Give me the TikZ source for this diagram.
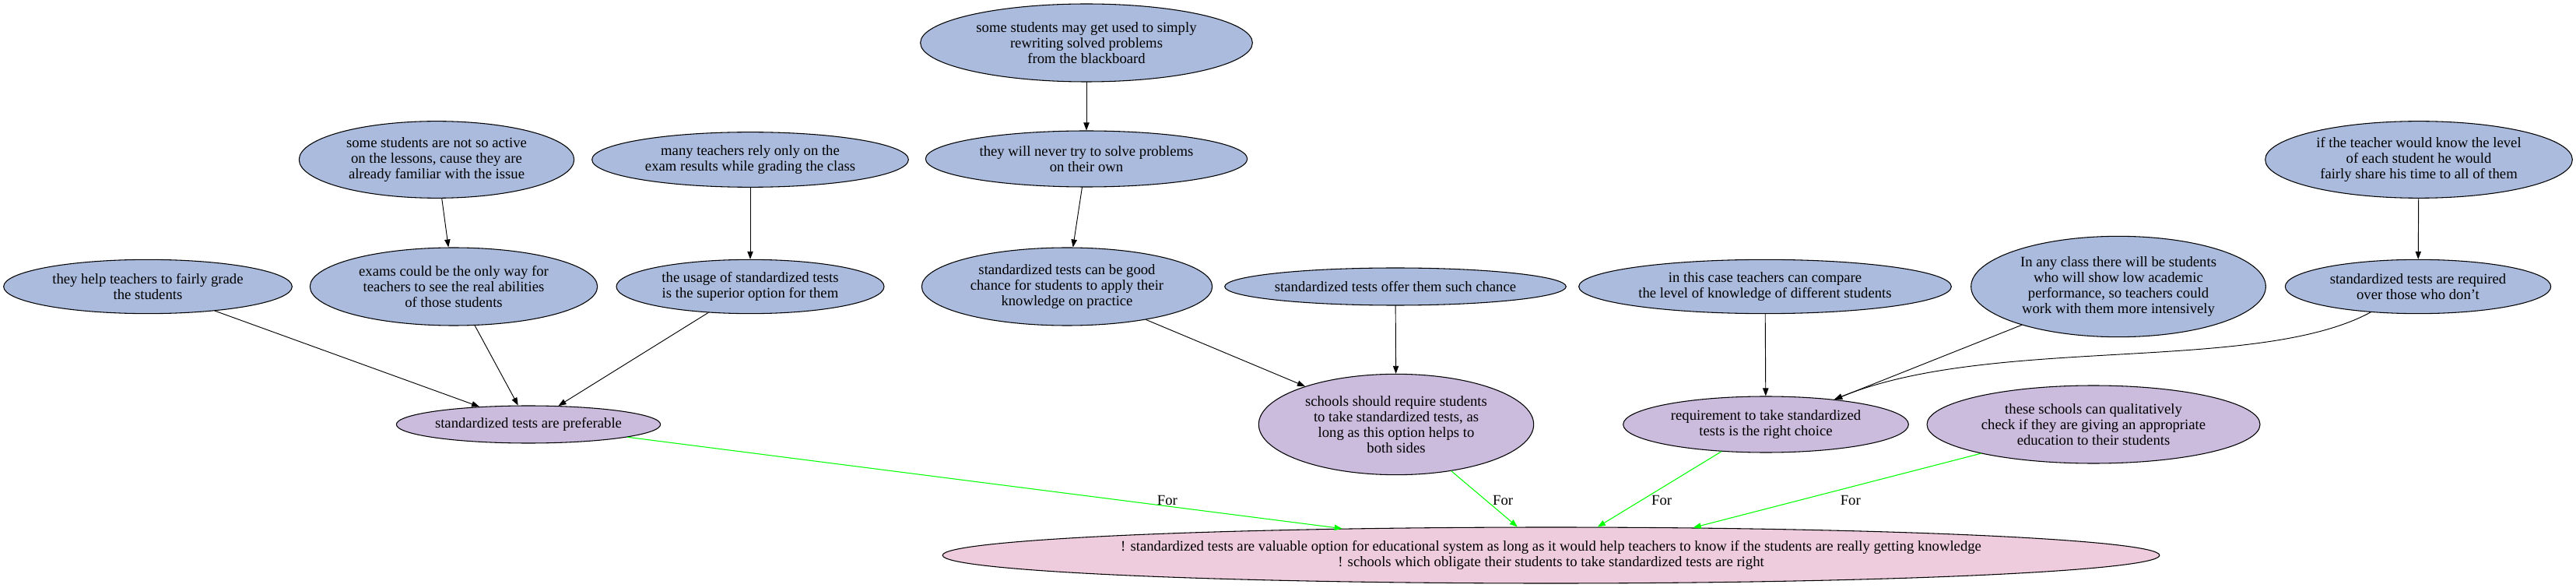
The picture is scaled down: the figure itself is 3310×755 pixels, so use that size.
\documentclass[tikz,border=0pt]{standalone}
\usepackage{fontspec}
\setmainfont{Liberation Serif}
\usepackage{tikz}
\usetikzlibrary{arrows.meta}
\usetikzlibrary{shapes.geometric}

\definecolor{claimblue}{RGB}{170,187,221}
\definecolor{pointlilac}{RGB}{203,187,221}
\definecolor{thesispink}{RGB}{238,204,221}

\tikzset{
	arg/.style={ellipse,draw=black,line width=0.8pt,inner sep=0pt,align=center,font=\fontsize{14}{15}\selectfont},
	claim/.style={arg,fill=claimblue},
	point/.style={arg,fill=pointlilac},
	thesis/.style={arg,fill=thesispink},
	link/.style={->,line width=0.7pt},
	forlink/.style={->,line width=0.8pt,draw=green},
	forlabel/.style={font=\fontsize{14}{15}\selectfont,inner sep=0pt}
}

\begin{document}
\begin{tikzpicture}[line cap=round,line join=round,>={Triangle[length=7.5pt,width=5.5pt]},x=0.75pt,y=-0.75pt]
	\useasboundingbox (0,0) rectangle (3310,755);
	\node[claim,minimum width=320pt,minimum height=75pt] (blackboard) at (1396,55) {some students may get used to simply\\rewriting solved problems\\from the blackboard};
	\node[claim,minimum width=265pt,minimum height=74pt] (active) at (561,205) {some students are not so active\\on the lessons, cause they are\\already familiar with the issue};
	\node[claim,minimum width=305pt,minimum height=53pt] (rely) at (964,205) {many teachers rely only on the\\exam results while grading the class};
	\node[claim,minimum width=310pt,minimum height=54pt] (never) at (1396,204) {they will never try to solve problems\\on their own};
	\node[claim,minimum width=296pt,minimum height=74pt] (share) at (3108,205) {if the teacher would know the level\\of each student he would\\fairly share his time to all of them};
	\node[claim,minimum width=278pt,minimum height=52pt] (help) at (190,368) {they help teachers to fairly grade\\the students};
	\node[claim,minimum width=277pt,minimum height=75pt] (exams) at (583,368) {exams could be the only way for\\teachers to see the real abilities\\of those students};
	\node[claim,minimum width=258pt,minimum height=52pt] (usage) at (964,368) {the usage of standardized tests\\is the superior option for them};
	\node[claim,minimum width=280pt,minimum height=75pt] (chance) at (1371,368) {standardized tests can be good\\chance for students to apply their\\knowledge on practice};
	\node[claim,minimum width=318pt,minimum height=36pt] (offer) at (1793,368) {standardized tests offer them such chance};
	\node[claim,minimum width=359pt,minimum height=52pt] (compare) at (2268,368) {in this case teachers can compare\\the level of knowledge of different students};
	\node[claim,minimum width=284pt,minimum height=97pt] (lowperf) at (2722,368) {In any class there will be students\\who will show low academic\\performance, so teachers could\\work with them more intensively};
	\node[claim,minimum width=256pt,minimum height=52pt] (required) at (3107,368) {standardized tests are required\\over those who don’t};
	\node[point,minimum width=249pt,minimum height=36pt] (preferable) at (679,545) {standardized tests are preferable};
	\node[point,minimum width=265pt,minimum height=97pt] (schools) at (1794,545) {schools should require students\\to take standardized tests, as\\long as this option helps to\\both sides};
	\node[point,minimum width=275pt,minimum height=54pt] (choice) at (2269,545) {requirement to take standardized\\tests is the right choice};
	\node[point,minimum width=321pt,minimum height=75pt] (check) at (2690,545) {these schools can qualitatively\\check if they are giving an appropriate\\education to their students};
	\node[thesis,minimum width=1167pt,minimum height=54pt] (valuable) at (1993,713) {! standardized tests are valuable option for educational system as long as it would help teachers to know if the students are really getting knowledge\\! schools which obligate their students to take standardized tests are right};

	\draw [link] (active) -- (exams);
	\draw [link] (rely) -- (usage);
	\draw [link] (help) -- (preferable);
	\draw [link] (exams) -- (preferable);
	\draw [link] (usage) -- (preferable);
	\draw [link] (blackboard) -- (never);
	\draw [link] (never) -- (chance);
	\draw [link] (chance) -- (schools);
	\draw [link] (offer) -- (schools);
	\draw [link] (share) -- (required);
	\draw [link] (compare) -- (choice);
	\draw [link] (lowperf) -- (choice.20);
	\draw [link] (required) .. controls (2900,480) and (2560,430) .. (choice.20);

	\draw [forlink] (preferable) -- node[forlabel,pos=0.69,xshift=45pt] (forA) {For} (valuable);
	\draw [forlink] (schools) -- node[forlabel,pos=0.53,xshift=16pt] (forB) {For} (valuable);
	\draw [forlink] (choice) -- node[forlabel,pos=0.65,xshift=20pt] (forC) {For} (valuable);
	\draw [forlink] (check) -- node[forlabel,pos=0.63,xshift=49pt] (forD) {For} (valuable.11);
\end{tikzpicture}
\end{document}
